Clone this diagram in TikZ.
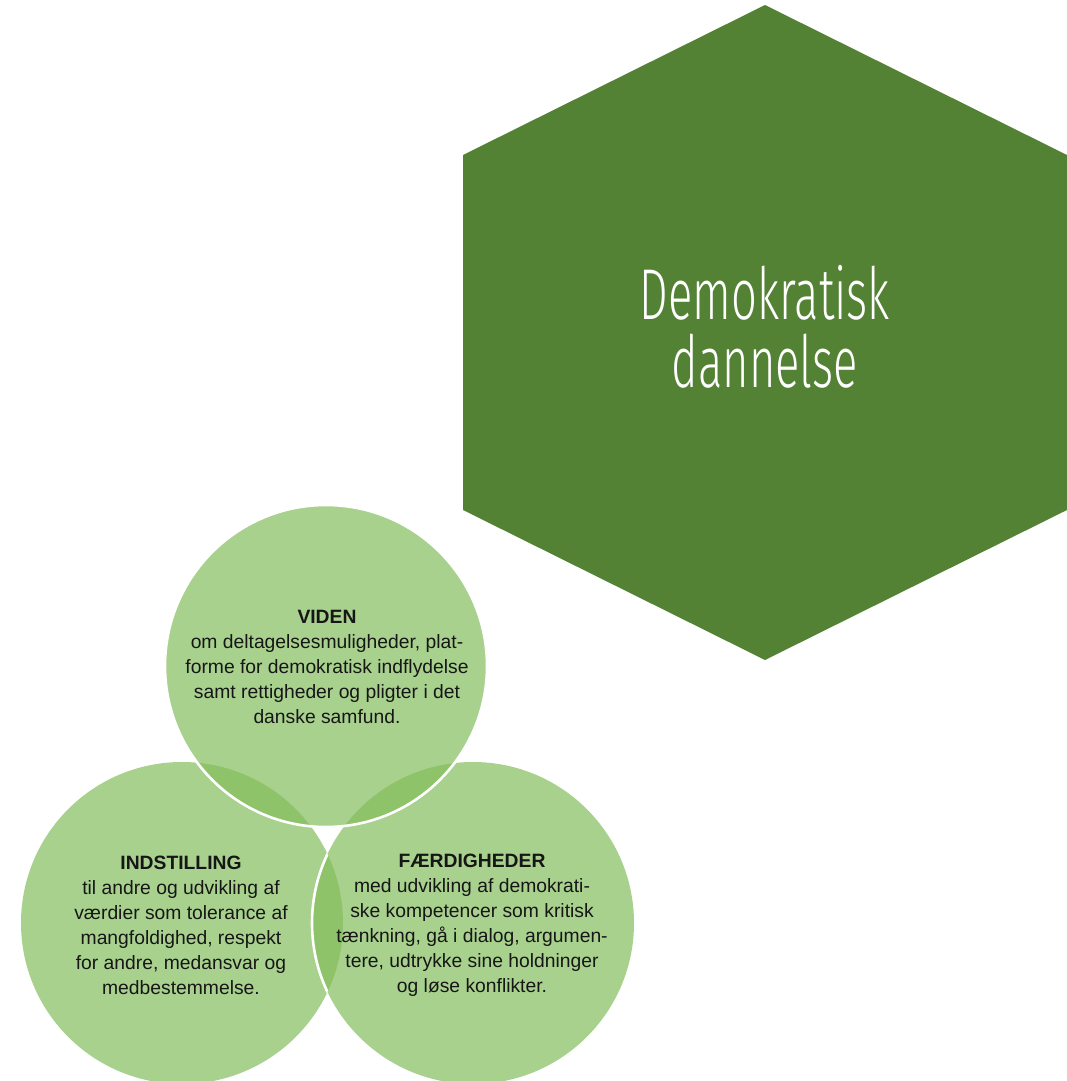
\documentclass[tikz,border=0pt]{standalone}
\usepackage{fontspec}
\setmainfont{Liberation Sans}
\newfontfamily\titlefont[FakeStretch=0.63]{Fira Sans Light}
\definecolor{hexgreen}{HTML}{548235}
\definecolor{circgreen}{HTML}{A9D18E}
\definecolor{lensgreen}{HTML}{8FC36A}
\definecolor{bodytext}{HTML}{161616}
\tikzset{
  hexshape/.style={fill=hexgreen, draw=none},
  circfill/.style={fill=circgreen, draw=none},
  lensfill/.style={fill=lensgreen, draw=none},
  circline/.style={draw=white, line width=2.6pt},
  bodyblock/.style={align=center, font=\fontsize{19.3}{25}\selectfont, text=bodytext, inner sep=0pt},
  titleblock/.style={align=center, font=\titlefont\fontsize{72}{68}\selectfont, text=white, inner sep=0pt},
}
\begin{document}
\begin{tikzpicture}[x=1pt, y=-1pt]
\useasboundingbox (0,0) rectangle (1066,1081);
% hexagon
\fill[hexshape] (765,5) -- (1067,155) -- (1067,510) -- (765,660) -- (463,510) -- (463,155) -- cycle;
\node[titleblock] (title) at (765,327) {Demokratisk\\dannelse};
% circles
\coordinate (cT) at (326,666);
\coordinate (cL) at (182,923);
\coordinate (cR) at (473,923);
\fill[circfill] (cL) circle (161);
\fill[circfill] (cR) circle (161);
\fill[circfill] (cT) circle (161);
% overlaps
\begin{scope}
  \clip (cT) circle (161);
  \fill[lensfill] (cL) circle (161);
  \fill[lensfill] (cR) circle (161);
\end{scope}
\begin{scope}
  \clip (cL) circle (161);
  \fill[lensfill] (cR) circle (161);
\end{scope}
% white outlines
\begin{scope}
  \clip (cL) circle (161);
  \draw[circline] (cR) circle (161);
\end{scope}
\draw[circline] (cT) circle (161);
% texts
\node[bodyblock] (viden) at (327,667) {\textbf{VIDEN}\\om deltagelsesmuligheder, plat-\\forme for demokratisk indflydelse\\samt rettigheder og pligter i det\\danske samfund.};
\node[bodyblock] (indstilling) at (181,925) {\textbf{INDSTILLING}\\til andre og udvikling af\\værdier som tolerance af\\mangfoldighed, respekt\\for andre, medansvar og\\medbestemmelse.};
\node[bodyblock] (faerdig) at (472,925) {\textbf{FÆRDIGHEDER}\\med udvikling af demokrati-\\ske kompetencer som kritisk\\tænkning, gå i dialog, argumen-\\tere, udtrykke sine holdninger\\og løse konflikter.};
\end{tikzpicture}
\end{document}
